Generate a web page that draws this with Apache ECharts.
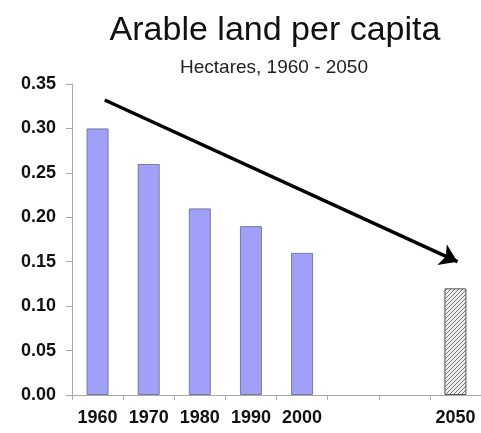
<!DOCTYPE html>
<html>
<head>
<meta charset="utf-8">
<script src="https://cdn.jsdelivr.net/npm/echarts@6/dist/echarts.min.js"></script>
<style>html,body{margin:0;padding:0;background:#fff;}#c{width:481px;height:433px;}</style>
</head>
<body>
<div id="c"></div>
<script>
const categories = ['1960', '1970', '1980', '1990', '2000', '', '', '2050'];
const historical = [0.30, 0.26, 0.21, 0.19, 0.16, null, null, null];
const projected = [null, null, null, null, null, null, null, 0.12];
const trendStart = [0.14, 0.332];
const trendEnd = [7.04, 0.150];

function hatch() {
  const s = 4;
  const c = document.createElement('canvas');
  c.width = s; c.height = s;
  const g = c.getContext('2d');
  g.fillStyle = '#eeeeee';
  g.fillRect(0, 0, s, s);
  g.strokeStyle = '#777777';
  g.lineWidth = 1;
  g.beginPath();
  g.moveTo(0, s); g.lineTo(s, 0);
  g.moveTo(-s / 2, s / 2); g.lineTo(s / 2, -s / 2);
  g.moveTo(s / 2, s * 1.5); g.lineTo(s * 1.5, s / 2);
  g.stroke();
  return c;
}

const chart = echarts.init(document.getElementById('c'));
chart.setOption({
  backgroundColor: '#fff',
  animation: false,
  title: [
    { text: 'Arable land per capita', left: 270, top: 9, textAlign: 'center',
      textStyle: { fontFamily: 'Liberation Sans', fontSize: 34, fontWeight: 'normal', color: '#111' } },
    { text: 'Hectares, 1960 - 2050', left: 269, top: 53, textAlign: 'center',
      textStyle: { fontFamily: 'Liberation Sans', fontSize: 19, fontWeight: 'normal', color: '#222' } }
  ],
  grid: { left: 72, right: 0, top: 84, bottom: 38 },
  xAxis: [{
    type: 'category', data: categories,
    axisLine: { lineStyle: { color: '#aaa', width: 1 } },
    axisTick: { show: true, length: 5, lineStyle: { color: '#aaa' } },
    axisLabel: { margin: 14, fontFamily: 'Liberation Sans', fontSize: 18, fontWeight: 'bold', color: '#111', interval: 0 },
    splitLine: { show: false }
  }, {
    type: 'value', min: -0.5, max: 7.5, show: false
  }],
  yAxis: {
    type: 'value', min: 0, max: 0.35, interval: 0.05,
    axisLine: { show: true, onZero: false, lineStyle: { color: '#aaa', width: 1 } },
    axisTick: { show: true, length: 6, lineStyle: { color: '#aaa' } },
    axisLabel: { margin: 16, fontFamily: 'Liberation Sans', fontSize: 18, fontWeight: 'bold', color: '#111',
      formatter: v => v.toFixed(2) },
    splitLine: { show: false }
  },
  series: [
    { type: 'bar', data: historical, barWidth: 22, barGap: '-100%',
      itemStyle: { color: '#a0a0f8', borderColor: '#7a7a9a', borderWidth: 1 } },
    { type: 'bar', data: projected, barWidth: 22,
      itemStyle: { color: { image: hatch(), repeat: 'repeat' }, borderColor: '#555', borderWidth: 1 } },
    { type: 'lines', coordinateSystem: 'cartesian2d', xAxisIndex: 1, yAxisIndex: 0,
      symbol: ['none', 'arrow'], symbolSize: [14, 17], silent: true,
      lineStyle: { color: '#000', width: 3.5, opacity: 1, curveness: 0 },
      data: [{ coords: [trendStart, trendEnd] }] }
  ]
});
</script>
</body>
</html>
